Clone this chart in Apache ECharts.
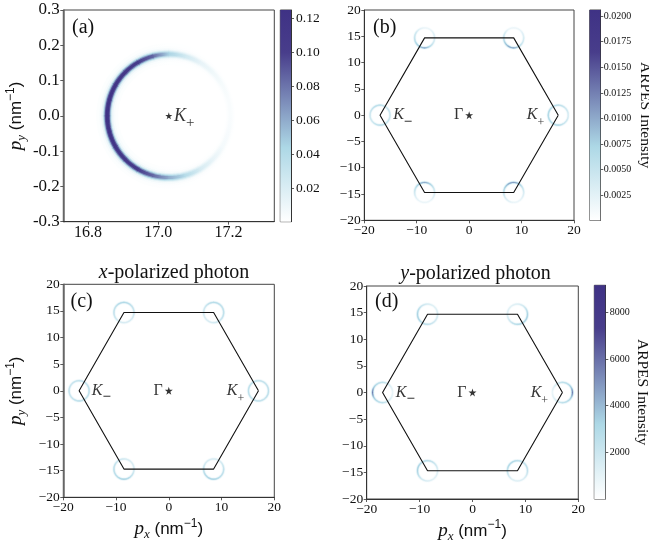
<!DOCTYPE html>
<html><head><meta charset="utf-8">
<style>html,body{margin:0;padding:0;background:#fff}#c{width:649px;height:544px}</style>
<script src="https://cdn.jsdelivr.net/npm/echarts@6/dist/echarts.min.js"></script>
</head><body><div id="c"></div>
<script>
// ---------- data ----------
const hexX = [17, 8.5, -8.5, -17, -8.5, 8.5, 17];
const hexY = [0, 14.7, 14.7, 0, -14.7, -14.7, 0];
const valleyX = [-8.5, 8.5, -8.5, 8.5, -17, 17];
const valleyY = [14.7, 14.7, -14.7, -14.7, 0, 0];
const valleyRadius = 1.9;
const ringAnglesA = [0,15,30,45,60,75,90,105,120,135,150,165,180,195,210,225,240,255,270,285,300,315,330,345];
const ringValuesA = [.003,.003,.005,.008,.013,.025,.045,.085,.105,.112,.118,.122,.125,.122,.118,.112,.105,.085,.06,.04,.022,.012,.006,.004];
const ringCenterA = [17.03, 0];
const ringRadiusA = 0.175;
const ringAngles = [0,30,60,90,120,150,180,210,240,270,300,330];
const ringsB = [
 [.004,.003,.002,.002,.003,.005,.006,.008,.010,.012,.008,.005],
 [.004,.003,.002,.002,.002,.004,.006,.009,.012,.012,.008,.005],
 [.004,.006,.009,.012,.010,.007,.005,.003,.002,.002,.002,.003],
 [.004,.006,.010,.013,.012,.009,.006,.004,.003,.002,.002,.003],
 [.005,.006,.006,.007,.007,.006,.005,.005,.006,.007,.007,.006],
 [.004,.005,.006,.007,.007,.008,.008,.008,.008,.008,.006,.005]
];
const ringsC = [
 [2400,2800,3200,3600,3400,3000,2800,2400,2000,1800,1800,2000],
 [3000,3000,3200,3400,3000,2400,2000,1800,1800,2000,2400,2800],
 [2000,1800,1800,2000,2400,2800,3000,3200,3600,3800,3400,2600],
 [2800,2200,1800,1800,1800,2000,2800,3400,3800,3800,3400,3000],
 [3000,3000,2800,2800,2600,2600,2800,2600,2800,3000,3000,3000],
 [3000,2800,2800,2800,3000,3000,3000,3000,3000,2800,2800,3000]
];
const ringsD = [
 [1800,1500,1500,1800,2400,3200,3800,3800,3400,3000,2400,2000],
 [3800,2800,2000,1500,1400,1400,1500,2000,2800,3400,3800,4000],
 [1600,2200,2800,3200,3400,3800,3800,2800,2000,1600,1400,1400],
 [2800,3000,3000,3200,3600,3600,3000,2000,1500,1400,1600,2000],
 [1000,1400,2200,3000,3200,4200,6800,4200,3200,3000,2200,1400],
 [6800,4200,3200,3000,2200,1400,1000,1400,2200,3000,3200,4200]
];
const ticksAx = [16.8, 17.0, 17.2];
const ticksAy = [-0.3,-0.2,-0.1,0,0.1,0.2,0.3];
const barATicks = [0.02,0.04,0.06,0.08,0.10,0.12];
const barBTicks = [0.0025,0.005,0.0075,0.01,0.0125,0.015,0.0175,0.02];
const barDTicks = [2000,4000,6000,8000];
const rangeA = [0.0003, 0.1249];
const rangeB = [0.00006, 0.0206];
const rangeD = [0, 9160];
const cmapStops = [[0,'#ffffff'],[0.35,'#add8e6'],[0.8,'#483d8b'],[1,'#3f3285']];
const STAR = 'path://M50 0L61.8 36.3H100L69.1 58.8L80.9 95.1L50 72.6L19.1 95.1L30.9 58.8L0 36.3H38.2Z';
const SERIF = '"Liberation Serif"', SANS = '"Liberation Sans"';

// ---------- helpers ----------
const hex2 = c => [1,3,5].map(i => parseInt(c.substr(i,2),16));
function cmap(t){
  t = Math.max(0, Math.min(1, t));
  for (let i = 1; i < cmapStops.length; i++) {
    if (t <= cmapStops[i][0]) {
      const [t0,c0] = cmapStops[i-1], [t1,c1] = cmapStops[i];
      const f = (t-t0)/(t1-t0), a = hex2(c0), b = hex2(c1);
      return 'rgb(' + a.map((v,k) => Math.round(v+(b[k]-v)*f)).join(',') + ')';
    }
  }
  return cmapStops[cmapStops.length-1][1];
}
const haloA = [[22,.012],[16,.03],[12,.08],[9,.2],[7,.45],[5,.75],[3,1]];
const haloS = [[4,.05],[3.2,.12],[2.4,.28],[1.7,.5],[1.1,.72],[.7,.9]];
function ringSeries(i, rings, halo, vmax){
  return {
    type:'custom', xAxisIndex:i, yAxisIndex:i, coordinateSystem:'cartesian2d', z:2, clip:true, silent:true,
    data: rings.map(r => [r.cx, r.cy]),
    renderItem(params, api){
      const ring = rings[params.dataIndex], n = ring.angles.length, kids = [];
      halo.forEach(([w,f]) => {
        for (let k = 0; k < n; k++) {
          const a0 = ring.angles[k], a1 = k+1 < n ? ring.angles[k+1] : ring.angles[0]+360;
          const pts = [];
          for (let s = 0; s <= 4; s++) {
            const a = (a0 - 0.6 + (a1-a0+1.2)*s/4) * Math.PI/180;
            pts.push(api.coord([ring.cx + ring.r*Math.cos(a), ring.cy + ring.r*Math.sin(a)]));
          }
          const p0 = pts[0], p1 = pts[4];
          kids.push({type:'polyline', shape:{points:pts}, style:{fill:null, lineWidth:w, lineCap:'butt', lineJoin:'round',
            stroke:new echarts.graphic.LinearGradient(p0[0],p0[1],p1[0],p1[1],
              [{offset:0,color:cmap(ring.vals[k]*f/vmax)},{offset:1,color:cmap(ring.vals[(k+1)%n]*f/vmax)}],true)}});
        }
      });
      return {type:'group', children:kids};
    }
  };
}
const valleyRings = vals => vals.map((v,i) => ({cx:valleyX[i], cy:valleyY[i], r:valleyRadius, angles:ringAngles, vals:v}));
function barSeries(i, range){
  return {
    type:'custom', xAxisIndex:i, yAxisIndex:i, coordinateSystem:'cartesian2d', silent:true, z:1,
    data:[[0, range[0]],[1, range[1]]],
    renderItem(params, api){
      if (params.dataIndex) return null;
      const a = api.coord([0,range[0]]), b = api.coord([1,range[1]]);
      return {type:'rect', shape:{x:a[0], y:b[1], width:b[0]-a[0], height:a[1]-b[1]},
        style:{fill:new echarts.graphic.LinearGradient(0,1,0,0,cmapStops.map(s=>({offset:s[0],color:s[1]})))}};
    }
  };
}
const minus = v => String(v).replace('-','\u2212');
const axisBase = (fs, fmt) => ({
  axisLine:{show:true,onZero:false,lineStyle:{color:'#333',width:1}},
  axisTick:{show:true,length:3,lineStyle:{color:'#333',width:0.8}},
  axisLabel:{fontFamily:SERIF,fontSize:fs,color:'#111',margin:3.5,formatter:fmt,hideOverlap:false},
  splitLine:{show:false}
});
const nameRich = {
  p:{fontFamily:SERIF,fontStyle:'italic',fontSize:19,color:'#111',lineHeight:24},
  s:{fontFamily:SERIF,fontStyle:'italic',fontSize:13,color:'#111',lineHeight:24,verticalAlign:'bottom'},
  r:{fontFamily:SANS,fontSize:17,color:'#111',lineHeight:24},
  u:{fontFamily:SANS,fontSize:12,color:'#111',lineHeight:24,verticalAlign:'top'}
};
const pName = sub => `{p|p}{s|${sub}}{r| (nm}{u|\u22121}{r|)}`;
function mainX(i, min, max, fs, opt){
  const b = axisBase(fs, minus);
  return Object.assign(b, {type:'value', gridIndex:i, min, max}, opt);
}
function barX(i){ return {type:'value', gridIndex:i, min:0, max:1, show:false}; }
function barY(i, range, ticks, fs, fmt, title, gap, margin){
  const b = axisBase(fs, fmt);
  b.axisLabel.customValues = ticks; b.axisTick.customValues = ticks; b.axisLabel.margin = margin;
  const o = Object.assign(b, {type:'value', gridIndex:i, position:'right', min:range[0], max:range[1]});
  if (title) Object.assign(o, {name:title, nameLocation:'middle', nameRotate:-90, nameGap:gap,
    nameTextStyle:{fontFamily:SERIF,fontSize:15.5,color:'#111'}});
  return o;
}
const kRich = (fs, ss) => ({
  k:{fontFamily:SERIF,fontStyle:'italic',fontSize:fs,color:'#000',lineHeight:fs+12},
  g:{fontFamily:SERIF,fontSize:fs,color:'#000',lineHeight:fs+12},
  s:{fontFamily:SERIF,fontSize:ss,color:'#000',lineHeight:fs+12,verticalAlign:'bottom'},
  m:{fontFamily:SERIF,fontSize:fs-1,fontWeight:'bold',color:'#000',lineHeight:fs+12,verticalAlign:'bottom'}
});
function labelSeries(i, items, fs, ss){
  return {type:'scatter', xAxisIndex:i, yAxisIndex:i, symbolSize:0, z:6, silent:true,
    data:items.map(it => ({value:[it[0],it[1]], label:{show:true, position:'inside', align:'left', verticalAlign:'middle',
      formatter:it[2], rich:kRich(fs, ss)}}))};
}
const starSeries = (i, x, size) => ({type:'scatter', xAxisIndex:i, yAxisIndex:i, symbol:STAR, symbolSize:size,
  itemStyle:{color:'#000'}, z:7, silent:true, data:[[x,0]]});
const hexSeries = i => ({type:'line', xAxisIndex:i, yAxisIndex:i, z:5, showSymbol:false, silent:true,
  lineStyle:{color:'#111',width:1.1}, data:hexX.map((x,k)=>[x,hexY[k]])});
const panelTag = (left, top, t) => ({left, top, text:t, textStyle:{fontFamily:SERIF,fontSize:20,fontWeight:'normal',color:'#111'}});
const titleRich = {
  i:{fontFamily:SERIF,fontStyle:'italic',fontWeight:'normal',fontSize:20,color:'#111'},
  n:{fontFamily:SERIF,fontWeight:'normal',fontSize:20,color:'#111'}
};

const grids = [
 {left:63.3,top:10,width:211,height:211.7},
 {left:364.3,top:10,width:209.7,height:210.3},
 {left:63.3,top:284.3,width:211,height:213},
 {left:366.7,top:286,width:211.6,height:213},
 {left:280.3,top:10,width:10.7,height:211.7},
 {left:589.7,top:10,width:10.6,height:210.3},
 {left:594.3,top:285.3,width:11,height:213.7}
].map(g => Object.assign(g,{show:true,borderColor:'#444',borderWidth:1,backgroundColor:'#fff',outerBoundsMode:'none'}));

const std = i => {
  const x = mainX(i,-20,20,13.5,{interval:10});
  const y = Object.assign(axisBase(13.5,minus),{type:'value',gridIndex:i,min:-20,max:20,interval:5});
  return [x,y];
};
const [xb,yb] = std(1), [xc,yc] = std(2), [xd,yd] = std(3);
const xa = mainX(0,16.73,17.33,16,{});
xa.axisLabel.customValues = ticksAx; xa.axisTick.customValues = ticksAx;
xa.axisLabel.formatter = v => (+v).toFixed(1);
const ya = Object.assign(axisBase(17, v => (+v).toFixed(1)),{type:'value',gridIndex:0,min:-0.3,max:0.3});
ya.axisLabel.customValues = ticksAy; ya.axisTick.customValues = ticksAy;
[ya,yc].forEach(y => {
  Object.assign(y,{name:pName('y'),nameLocation:'middle',nameGap:35,nameRotate:90,nameTextStyle:{rich:nameRich}});
  y.axisLine.lineStyle = {color:'#666',width:1.5};
});
[xc,xd].forEach(x => Object.assign(x,{name:pName('x'),nameLocation:'middle',nameGap:20,nameTextStyle:{rich:nameRich}}));

const option = {
  animation:false, backgroundColor:'#fff',
  title:[
    panelTag(67,13,'(a)'), panelTag(368,13,'(b)'), panelTag(65.5,287,'(c)'), panelTag(370,287,'(d)'),
    {left:169,top:257.5,textAlign:'center',text:'{i|x}{n|-polarized photon}',textStyle:{rich:titleRich}},
    {left:470.5,top:259,textAlign:'center',text:'{i|y}{n|-polarized photon}',textStyle:{rich:titleRich}}
  ],
  grid:grids,
  xAxis:[xa,xb,xc,xd,barX(4),barX(5),barX(6)],
  yAxis:[ya,yb,yc,yd,
    barY(4,rangeA,barATicks,13.5,v=>(+v).toFixed(2),null,0,5),
    barY(5,rangeB,barBTicks,10,v=>(+v).toFixed(4),'ARPES Intensity',37,3.5),
    barY(6,rangeD,barDTicks,10,v=>String(v),'ARPES Intensity',29,4.5)],
  series:[
    ringSeries(0,[{cx:ringCenterA[0],cy:ringCenterA[1],r:ringRadiusA,angles:ringAnglesA,vals:ringValuesA}],haloA,rangeA[1]),
    starSeries(0,ringCenterA[0],7),
    labelSeries(0,[[17.045,0,'{k|K}{s|+}']],18,15),
    ringSeries(1,valleyRings(ringsB),haloS,rangeB[1]), hexSeries(1), starSeries(1,0,8),
    labelSeries(1,[[11,0,'{k|K}{s|+}'],[-14.5,0,'{k|K}{m|\u2212}'],[-2.9,0,'{g|\u0393}']],16,12),
    ringSeries(2,valleyRings(ringsC),haloS,rangeD[1]), hexSeries(2), starSeries(2,0,8),
    labelSeries(2,[[11,0,'{k|K}{s|+}'],[-14.6,0,'{k|K}{m|\u2212}'],[-2.9,0,'{g|\u0393}']],16,12),
    ringSeries(3,valleyRings(ringsD),haloS,rangeD[1]), hexSeries(3), starSeries(3,0,8),
    labelSeries(3,[[11,0,'{k|K}{s|+}'],[-14.5,0,'{k|K}{m|\u2212}'],[-2.9,0,'{g|\u0393}']],16,12),
    barSeries(4,rangeA), barSeries(5,rangeB), barSeries(6,rangeD)
  ]
};
echarts.init(document.getElementById('c'),null,{renderer:'canvas'}).setOption(option);
</script></body></html>
